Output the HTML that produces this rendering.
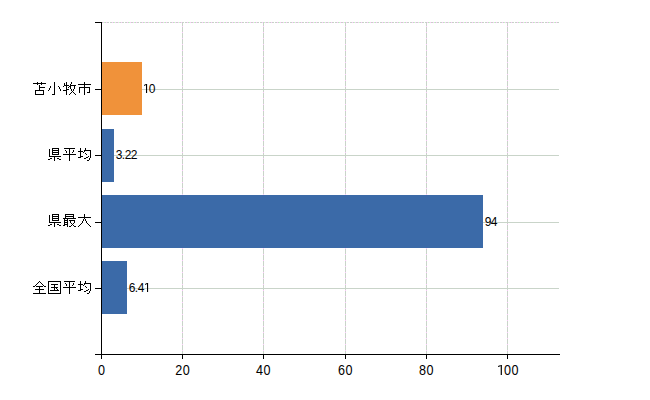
<!DOCTYPE html>
<html><head><meta charset="utf-8"><style>
html,body{margin:0;padding:0;background:#fff;width:650px;height:400px;overflow:hidden}
svg{display:block}
text{font-family:"Liberation Sans",sans-serif}
</style></head><body>
<svg width="650" height="400" shape-rendering="crispEdges"><rect width="650" height="400" fill="#fff"/><rect x="102" y="22" width="1" height="1" fill="#c8d2c8"/><rect x="103" y="22" width="1" height="1" fill="#fcc8fc"/><rect x="104" y="22" width="1" height="1" fill="#c4fcc4"/><rect x="105" y="22" width="1" height="1" fill="#c8d2c8"/><rect x="106" y="22" width="1" height="1" fill="#fcc8fc"/><rect x="107" y="22" width="2" height="1" fill="#c8d2c8"/><rect x="110" y="22" width="2" height="1" fill="#c8d2c8"/><rect x="112" y="22" width="1" height="1" fill="#fcc8fc"/><rect x="113" y="22" width="1" height="1" fill="#c8d2c8"/><rect x="114" y="22" width="1" height="1" fill="#c4fcc4"/><rect x="115" y="22" width="1" height="1" fill="#fcc8fc"/><rect x="116" y="22" width="2" height="1" fill="#c8d2c8"/><rect x="118" y="22" width="1" height="1" fill="#fcc8fc"/><rect x="119" y="22" width="1" height="1" fill="#c4fcc4"/><rect x="120" y="22" width="1" height="1" fill="#c8d2c8"/><rect x="121" y="22" width="1" height="1" fill="#fcc8fc"/><rect x="122" y="22" width="2" height="1" fill="#c8d2c8"/><rect x="125" y="22" width="2" height="1" fill="#c8d2c8"/><rect x="127" y="22" width="1" height="1" fill="#fcc8fc"/><rect x="128" y="22" width="1" height="1" fill="#c8d2c8"/><rect x="129" y="22" width="1" height="1" fill="#c4fcc4"/><rect x="130" y="22" width="1" height="1" fill="#fcc8fc"/><rect x="131" y="22" width="2" height="1" fill="#c8d2c8"/><rect x="133" y="22" width="1" height="1" fill="#fcc8fc"/><rect x="134" y="22" width="1" height="1" fill="#c4fcc4"/><rect x="135" y="22" width="1" height="1" fill="#c8d2c8"/><rect x="136" y="22" width="1" height="1" fill="#fcc8fc"/><rect x="137" y="22" width="2" height="1" fill="#c8d2c8"/><rect x="140" y="22" width="2" height="1" fill="#c8d2c8"/><rect x="142" y="22" width="1" height="1" fill="#fcc8fc"/><rect x="143" y="22" width="1" height="1" fill="#c8d2c8"/><rect x="144" y="22" width="1" height="1" fill="#c4fcc4"/><rect x="145" y="22" width="1" height="1" fill="#fcc8fc"/><rect x="146" y="22" width="2" height="1" fill="#c8d2c8"/><rect x="148" y="22" width="1" height="1" fill="#fcc8fc"/><rect x="149" y="22" width="1" height="1" fill="#c4fcc4"/><rect x="150" y="22" width="1" height="1" fill="#c8d2c8"/><rect x="151" y="22" width="1" height="1" fill="#fcc8fc"/><rect x="152" y="22" width="2" height="1" fill="#c8d2c8"/><rect x="155" y="22" width="2" height="1" fill="#c8d2c8"/><rect x="157" y="22" width="1" height="1" fill="#fcc8fc"/><rect x="158" y="22" width="1" height="1" fill="#c8d2c8"/><rect x="159" y="22" width="1" height="1" fill="#c4fcc4"/><rect x="160" y="22" width="1" height="1" fill="#fcc8fc"/><rect x="161" y="22" width="2" height="1" fill="#c8d2c8"/><rect x="163" y="22" width="1" height="1" fill="#fcc8fc"/><rect x="164" y="22" width="1" height="1" fill="#c4fcc4"/><rect x="165" y="22" width="1" height="1" fill="#c8d2c8"/><rect x="166" y="22" width="1" height="1" fill="#fcc8fc"/><rect x="167" y="22" width="2" height="1" fill="#c8d2c8"/><rect x="170" y="22" width="2" height="1" fill="#c8d2c8"/><rect x="172" y="22" width="1" height="1" fill="#fcc8fc"/><rect x="173" y="22" width="1" height="1" fill="#c8d2c8"/><rect x="174" y="22" width="1" height="1" fill="#c4fcc4"/><rect x="175" y="22" width="1" height="1" fill="#fcc8fc"/><rect x="176" y="22" width="2" height="1" fill="#c8d2c8"/><rect x="178" y="22" width="1" height="1" fill="#fcc8fc"/><rect x="179" y="22" width="1" height="1" fill="#c4fcc4"/><rect x="180" y="22" width="1" height="1" fill="#c8d2c8"/><rect x="181" y="22" width="1" height="1" fill="#fcc8fc"/><rect x="182" y="22" width="2" height="1" fill="#c8d2c8"/><rect x="185" y="22" width="2" height="1" fill="#c8d2c8"/><rect x="187" y="22" width="1" height="1" fill="#fcc8fc"/><rect x="188" y="22" width="1" height="1" fill="#c8d2c8"/><rect x="189" y="22" width="1" height="1" fill="#c4fcc4"/><rect x="190" y="22" width="1" height="1" fill="#fcc8fc"/><rect x="191" y="22" width="2" height="1" fill="#c8d2c8"/><rect x="193" y="22" width="1" height="1" fill="#fcc8fc"/><rect x="194" y="22" width="1" height="1" fill="#c4fcc4"/><rect x="195" y="22" width="1" height="1" fill="#c8d2c8"/><rect x="196" y="22" width="1" height="1" fill="#fcc8fc"/><rect x="197" y="22" width="2" height="1" fill="#c8d2c8"/><rect x="200" y="22" width="2" height="1" fill="#c8d2c8"/><rect x="202" y="22" width="1" height="1" fill="#fcc8fc"/><rect x="203" y="22" width="1" height="1" fill="#c8d2c8"/><rect x="204" y="22" width="1" height="1" fill="#c4fcc4"/><rect x="205" y="22" width="1" height="1" fill="#fcc8fc"/><rect x="206" y="22" width="2" height="1" fill="#c8d2c8"/><rect x="208" y="22" width="1" height="1" fill="#fcc8fc"/><rect x="209" y="22" width="1" height="1" fill="#c4fcc4"/><rect x="210" y="22" width="1" height="1" fill="#c8d2c8"/><rect x="211" y="22" width="1" height="1" fill="#fcc8fc"/><rect x="212" y="22" width="2" height="1" fill="#c8d2c8"/><rect x="215" y="22" width="2" height="1" fill="#c8d2c8"/><rect x="217" y="22" width="1" height="1" fill="#fcc8fc"/><rect x="218" y="22" width="1" height="1" fill="#c8d2c8"/><rect x="219" y="22" width="1" height="1" fill="#c4fcc4"/><rect x="220" y="22" width="1" height="1" fill="#fcc8fc"/><rect x="221" y="22" width="2" height="1" fill="#c8d2c8"/><rect x="223" y="22" width="1" height="1" fill="#fcc8fc"/><rect x="224" y="22" width="1" height="1" fill="#c4fcc4"/><rect x="225" y="22" width="1" height="1" fill="#c8d2c8"/><rect x="226" y="22" width="1" height="1" fill="#fcc8fc"/><rect x="227" y="22" width="2" height="1" fill="#c8d2c8"/><rect x="230" y="22" width="2" height="1" fill="#c8d2c8"/><rect x="232" y="22" width="1" height="1" fill="#fcc8fc"/><rect x="233" y="22" width="1" height="1" fill="#c8d2c8"/><rect x="234" y="22" width="1" height="1" fill="#c4fcc4"/><rect x="235" y="22" width="1" height="1" fill="#fcc8fc"/><rect x="236" y="22" width="2" height="1" fill="#c8d2c8"/><rect x="238" y="22" width="1" height="1" fill="#fcc8fc"/><rect x="239" y="22" width="1" height="1" fill="#c4fcc4"/><rect x="240" y="22" width="1" height="1" fill="#c8d2c8"/><rect x="241" y="22" width="1" height="1" fill="#fcc8fc"/><rect x="242" y="22" width="2" height="1" fill="#c8d2c8"/><rect x="245" y="22" width="2" height="1" fill="#c8d2c8"/><rect x="247" y="22" width="1" height="1" fill="#fcc8fc"/><rect x="248" y="22" width="1" height="1" fill="#c8d2c8"/><rect x="249" y="22" width="1" height="1" fill="#c4fcc4"/><rect x="250" y="22" width="1" height="1" fill="#fcc8fc"/><rect x="251" y="22" width="2" height="1" fill="#c8d2c8"/><rect x="253" y="22" width="1" height="1" fill="#fcc8fc"/><rect x="254" y="22" width="1" height="1" fill="#c4fcc4"/><rect x="255" y="22" width="1" height="1" fill="#c8d2c8"/><rect x="256" y="22" width="1" height="1" fill="#fcc8fc"/><rect x="257" y="22" width="2" height="1" fill="#c8d2c8"/><rect x="260" y="22" width="2" height="1" fill="#c8d2c8"/><rect x="262" y="22" width="1" height="1" fill="#fcc8fc"/><rect x="263" y="22" width="1" height="1" fill="#c8d2c8"/><rect x="264" y="22" width="1" height="1" fill="#c4fcc4"/><rect x="265" y="22" width="1" height="1" fill="#fcc8fc"/><rect x="266" y="22" width="2" height="1" fill="#c8d2c8"/><rect x="268" y="22" width="1" height="1" fill="#fcc8fc"/><rect x="269" y="22" width="1" height="1" fill="#c4fcc4"/><rect x="270" y="22" width="1" height="1" fill="#c8d2c8"/><rect x="271" y="22" width="1" height="1" fill="#fcc8fc"/><rect x="272" y="22" width="2" height="1" fill="#c8d2c8"/><rect x="275" y="22" width="2" height="1" fill="#c8d2c8"/><rect x="277" y="22" width="1" height="1" fill="#fcc8fc"/><rect x="278" y="22" width="1" height="1" fill="#c8d2c8"/><rect x="279" y="22" width="1" height="1" fill="#c4fcc4"/><rect x="280" y="22" width="1" height="1" fill="#fcc8fc"/><rect x="281" y="22" width="2" height="1" fill="#c8d2c8"/><rect x="283" y="22" width="1" height="1" fill="#fcc8fc"/><rect x="284" y="22" width="1" height="1" fill="#c4fcc4"/><rect x="285" y="22" width="1" height="1" fill="#c8d2c8"/><rect x="286" y="22" width="1" height="1" fill="#fcc8fc"/><rect x="287" y="22" width="2" height="1" fill="#c8d2c8"/><rect x="290" y="22" width="2" height="1" fill="#c8d2c8"/><rect x="292" y="22" width="1" height="1" fill="#fcc8fc"/><rect x="293" y="22" width="1" height="1" fill="#c8d2c8"/><rect x="294" y="22" width="1" height="1" fill="#c4fcc4"/><rect x="295" y="22" width="1" height="1" fill="#fcc8fc"/><rect x="296" y="22" width="2" height="1" fill="#c8d2c8"/><rect x="298" y="22" width="1" height="1" fill="#fcc8fc"/><rect x="299" y="22" width="1" height="1" fill="#c4fcc4"/><rect x="300" y="22" width="1" height="1" fill="#c8d2c8"/><rect x="301" y="22" width="1" height="1" fill="#fcc8fc"/><rect x="302" y="22" width="2" height="1" fill="#c8d2c8"/><rect x="305" y="22" width="2" height="1" fill="#c8d2c8"/><rect x="307" y="22" width="1" height="1" fill="#fcc8fc"/><rect x="308" y="22" width="1" height="1" fill="#c8d2c8"/><rect x="309" y="22" width="1" height="1" fill="#c4fcc4"/><rect x="310" y="22" width="1" height="1" fill="#fcc8fc"/><rect x="311" y="22" width="2" height="1" fill="#c8d2c8"/><rect x="313" y="22" width="1" height="1" fill="#fcc8fc"/><rect x="314" y="22" width="1" height="1" fill="#c4fcc4"/><rect x="315" y="22" width="1" height="1" fill="#c8d2c8"/><rect x="316" y="22" width="1" height="1" fill="#fcc8fc"/><rect x="317" y="22" width="2" height="1" fill="#c8d2c8"/><rect x="320" y="22" width="2" height="1" fill="#c8d2c8"/><rect x="322" y="22" width="1" height="1" fill="#fcc8fc"/><rect x="323" y="22" width="1" height="1" fill="#c8d2c8"/><rect x="324" y="22" width="1" height="1" fill="#c4fcc4"/><rect x="325" y="22" width="1" height="1" fill="#fcc8fc"/><rect x="326" y="22" width="2" height="1" fill="#c8d2c8"/><rect x="328" y="22" width="1" height="1" fill="#fcc8fc"/><rect x="329" y="22" width="1" height="1" fill="#c4fcc4"/><rect x="330" y="22" width="1" height="1" fill="#c8d2c8"/><rect x="331" y="22" width="1" height="1" fill="#fcc8fc"/><rect x="332" y="22" width="2" height="1" fill="#c8d2c8"/><rect x="335" y="22" width="2" height="1" fill="#c8d2c8"/><rect x="337" y="22" width="1" height="1" fill="#fcc8fc"/><rect x="338" y="22" width="1" height="1" fill="#c8d2c8"/><rect x="339" y="22" width="1" height="1" fill="#c4fcc4"/><rect x="340" y="22" width="1" height="1" fill="#fcc8fc"/><rect x="341" y="22" width="2" height="1" fill="#c8d2c8"/><rect x="343" y="22" width="1" height="1" fill="#fcc8fc"/><rect x="344" y="22" width="1" height="1" fill="#c4fcc4"/><rect x="345" y="22" width="1" height="1" fill="#c8d2c8"/><rect x="346" y="22" width="1" height="1" fill="#fcc8fc"/><rect x="347" y="22" width="2" height="1" fill="#c8d2c8"/><rect x="350" y="22" width="2" height="1" fill="#c8d2c8"/><rect x="352" y="22" width="1" height="1" fill="#fcc8fc"/><rect x="353" y="22" width="1" height="1" fill="#c8d2c8"/><rect x="354" y="22" width="1" height="1" fill="#c4fcc4"/><rect x="355" y="22" width="1" height="1" fill="#fcc8fc"/><rect x="356" y="22" width="2" height="1" fill="#c8d2c8"/><rect x="358" y="22" width="1" height="1" fill="#fcc8fc"/><rect x="359" y="22" width="1" height="1" fill="#c4fcc4"/><rect x="360" y="22" width="1" height="1" fill="#c8d2c8"/><rect x="361" y="22" width="1" height="1" fill="#fcc8fc"/><rect x="362" y="22" width="2" height="1" fill="#c8d2c8"/><rect x="365" y="22" width="2" height="1" fill="#c8d2c8"/><rect x="367" y="22" width="1" height="1" fill="#fcc8fc"/><rect x="368" y="22" width="1" height="1" fill="#c8d2c8"/><rect x="369" y="22" width="1" height="1" fill="#c4fcc4"/><rect x="370" y="22" width="1" height="1" fill="#fcc8fc"/><rect x="371" y="22" width="2" height="1" fill="#c8d2c8"/><rect x="373" y="22" width="1" height="1" fill="#fcc8fc"/><rect x="374" y="22" width="1" height="1" fill="#c4fcc4"/><rect x="375" y="22" width="1" height="1" fill="#c8d2c8"/><rect x="376" y="22" width="1" height="1" fill="#fcc8fc"/><rect x="377" y="22" width="2" height="1" fill="#c8d2c8"/><rect x="380" y="22" width="2" height="1" fill="#c8d2c8"/><rect x="382" y="22" width="1" height="1" fill="#fcc8fc"/><rect x="383" y="22" width="1" height="1" fill="#c8d2c8"/><rect x="384" y="22" width="1" height="1" fill="#c4fcc4"/><rect x="385" y="22" width="1" height="1" fill="#fcc8fc"/><rect x="386" y="22" width="2" height="1" fill="#c8d2c8"/><rect x="388" y="22" width="1" height="1" fill="#fcc8fc"/><rect x="389" y="22" width="1" height="1" fill="#c4fcc4"/><rect x="390" y="22" width="1" height="1" fill="#c8d2c8"/><rect x="391" y="22" width="1" height="1" fill="#fcc8fc"/><rect x="392" y="22" width="2" height="1" fill="#c8d2c8"/><rect x="395" y="22" width="2" height="1" fill="#c8d2c8"/><rect x="397" y="22" width="1" height="1" fill="#fcc8fc"/><rect x="398" y="22" width="1" height="1" fill="#c8d2c8"/><rect x="399" y="22" width="1" height="1" fill="#c4fcc4"/><rect x="400" y="22" width="1" height="1" fill="#fcc8fc"/><rect x="401" y="22" width="2" height="1" fill="#c8d2c8"/><rect x="403" y="22" width="1" height="1" fill="#fcc8fc"/><rect x="404" y="22" width="1" height="1" fill="#c4fcc4"/><rect x="405" y="22" width="1" height="1" fill="#c8d2c8"/><rect x="406" y="22" width="1" height="1" fill="#fcc8fc"/><rect x="407" y="22" width="2" height="1" fill="#c8d2c8"/><rect x="410" y="22" width="2" height="1" fill="#c8d2c8"/><rect x="412" y="22" width="1" height="1" fill="#fcc8fc"/><rect x="413" y="22" width="1" height="1" fill="#c8d2c8"/><rect x="414" y="22" width="1" height="1" fill="#c4fcc4"/><rect x="415" y="22" width="1" height="1" fill="#fcc8fc"/><rect x="416" y="22" width="2" height="1" fill="#c8d2c8"/><rect x="418" y="22" width="1" height="1" fill="#fcc8fc"/><rect x="419" y="22" width="1" height="1" fill="#c4fcc4"/><rect x="420" y="22" width="1" height="1" fill="#c8d2c8"/><rect x="421" y="22" width="1" height="1" fill="#fcc8fc"/><rect x="422" y="22" width="2" height="1" fill="#c8d2c8"/><rect x="425" y="22" width="2" height="1" fill="#c8d2c8"/><rect x="427" y="22" width="1" height="1" fill="#fcc8fc"/><rect x="428" y="22" width="1" height="1" fill="#c8d2c8"/><rect x="429" y="22" width="1" height="1" fill="#c4fcc4"/><rect x="430" y="22" width="1" height="1" fill="#fcc8fc"/><rect x="431" y="22" width="2" height="1" fill="#c8d2c8"/><rect x="433" y="22" width="1" height="1" fill="#fcc8fc"/><rect x="434" y="22" width="1" height="1" fill="#c4fcc4"/><rect x="435" y="22" width="1" height="1" fill="#c8d2c8"/><rect x="436" y="22" width="1" height="1" fill="#fcc8fc"/><rect x="437" y="22" width="2" height="1" fill="#c8d2c8"/><rect x="440" y="22" width="2" height="1" fill="#c8d2c8"/><rect x="442" y="22" width="1" height="1" fill="#fcc8fc"/><rect x="443" y="22" width="1" height="1" fill="#c8d2c8"/><rect x="444" y="22" width="1" height="1" fill="#c4fcc4"/><rect x="445" y="22" width="1" height="1" fill="#fcc8fc"/><rect x="446" y="22" width="2" height="1" fill="#c8d2c8"/><rect x="448" y="22" width="1" height="1" fill="#fcc8fc"/><rect x="449" y="22" width="1" height="1" fill="#c4fcc4"/><rect x="450" y="22" width="1" height="1" fill="#c8d2c8"/><rect x="451" y="22" width="1" height="1" fill="#fcc8fc"/><rect x="452" y="22" width="2" height="1" fill="#c8d2c8"/><rect x="455" y="22" width="2" height="1" fill="#c8d2c8"/><rect x="457" y="22" width="1" height="1" fill="#fcc8fc"/><rect x="458" y="22" width="1" height="1" fill="#c8d2c8"/><rect x="459" y="22" width="1" height="1" fill="#c4fcc4"/><rect x="460" y="22" width="1" height="1" fill="#fcc8fc"/><rect x="461" y="22" width="2" height="1" fill="#c8d2c8"/><rect x="463" y="22" width="1" height="1" fill="#fcc8fc"/><rect x="464" y="22" width="1" height="1" fill="#c4fcc4"/><rect x="465" y="22" width="1" height="1" fill="#c8d2c8"/><rect x="466" y="22" width="1" height="1" fill="#fcc8fc"/><rect x="467" y="22" width="2" height="1" fill="#c8d2c8"/><rect x="470" y="22" width="2" height="1" fill="#c8d2c8"/><rect x="472" y="22" width="1" height="1" fill="#fcc8fc"/><rect x="473" y="22" width="1" height="1" fill="#c8d2c8"/><rect x="474" y="22" width="1" height="1" fill="#c4fcc4"/><rect x="475" y="22" width="1" height="1" fill="#fcc8fc"/><rect x="476" y="22" width="2" height="1" fill="#c8d2c8"/><rect x="478" y="22" width="1" height="1" fill="#fcc8fc"/><rect x="479" y="22" width="1" height="1" fill="#c4fcc4"/><rect x="480" y="22" width="1" height="1" fill="#c8d2c8"/><rect x="481" y="22" width="1" height="1" fill="#fcc8fc"/><rect x="482" y="22" width="2" height="1" fill="#c8d2c8"/><rect x="485" y="22" width="2" height="1" fill="#c8d2c8"/><rect x="487" y="22" width="1" height="1" fill="#fcc8fc"/><rect x="488" y="22" width="1" height="1" fill="#c8d2c8"/><rect x="489" y="22" width="1" height="1" fill="#c4fcc4"/><rect x="490" y="22" width="1" height="1" fill="#fcc8fc"/><rect x="491" y="22" width="2" height="1" fill="#c8d2c8"/><rect x="493" y="22" width="1" height="1" fill="#fcc8fc"/><rect x="494" y="22" width="1" height="1" fill="#c4fcc4"/><rect x="495" y="22" width="1" height="1" fill="#c8d2c8"/><rect x="496" y="22" width="1" height="1" fill="#fcc8fc"/><rect x="497" y="22" width="2" height="1" fill="#c8d2c8"/><rect x="500" y="22" width="2" height="1" fill="#c8d2c8"/><rect x="502" y="22" width="1" height="1" fill="#fcc8fc"/><rect x="503" y="22" width="1" height="1" fill="#c8d2c8"/><rect x="504" y="22" width="1" height="1" fill="#c4fcc4"/><rect x="505" y="22" width="1" height="1" fill="#fcc8fc"/><rect x="506" y="22" width="2" height="1" fill="#c8d2c8"/><rect x="508" y="22" width="1" height="1" fill="#fcc8fc"/><rect x="509" y="22" width="1" height="1" fill="#c4fcc4"/><rect x="510" y="22" width="1" height="1" fill="#c8d2c8"/><rect x="511" y="22" width="1" height="1" fill="#fcc8fc"/><rect x="512" y="22" width="2" height="1" fill="#c8d2c8"/><rect x="515" y="22" width="2" height="1" fill="#c8d2c8"/><rect x="517" y="22" width="1" height="1" fill="#fcc8fc"/><rect x="518" y="22" width="1" height="1" fill="#c8d2c8"/><rect x="519" y="22" width="1" height="1" fill="#c4fcc4"/><rect x="520" y="22" width="1" height="1" fill="#fcc8fc"/><rect x="521" y="22" width="2" height="1" fill="#c8d2c8"/><rect x="523" y="22" width="1" height="1" fill="#fcc8fc"/><rect x="524" y="22" width="1" height="1" fill="#c4fcc4"/><rect x="525" y="22" width="1" height="1" fill="#c8d2c8"/><rect x="526" y="22" width="1" height="1" fill="#fcc8fc"/><rect x="527" y="22" width="2" height="1" fill="#c8d2c8"/><rect x="530" y="22" width="2" height="1" fill="#c8d2c8"/><rect x="532" y="22" width="1" height="1" fill="#fcc8fc"/><rect x="533" y="22" width="1" height="1" fill="#c8d2c8"/><rect x="534" y="22" width="1" height="1" fill="#c4fcc4"/><rect x="535" y="22" width="1" height="1" fill="#fcc8fc"/><rect x="536" y="22" width="2" height="1" fill="#c8d2c8"/><rect x="538" y="22" width="1" height="1" fill="#fcc8fc"/><rect x="539" y="22" width="1" height="1" fill="#c4fcc4"/><rect x="540" y="22" width="1" height="1" fill="#c8d2c8"/><rect x="541" y="22" width="1" height="1" fill="#fcc8fc"/><rect x="542" y="22" width="2" height="1" fill="#c8d2c8"/><rect x="545" y="22" width="2" height="1" fill="#c8d2c8"/><rect x="547" y="22" width="1" height="1" fill="#fcc8fc"/><rect x="548" y="22" width="1" height="1" fill="#c8d2c8"/><rect x="549" y="22" width="1" height="1" fill="#c4fcc4"/><rect x="550" y="22" width="1" height="1" fill="#fcc8fc"/><rect x="551" y="22" width="2" height="1" fill="#c8d2c8"/><rect x="553" y="22" width="1" height="1" fill="#fcc8fc"/><rect x="554" y="22" width="1" height="1" fill="#c4fcc4"/><rect x="555" y="22" width="1" height="1" fill="#c8d2c8"/><rect x="556" y="22" width="1" height="1" fill="#fcc8fc"/><rect x="557" y="22" width="2" height="1" fill="#c8d2c8"/><rect x="102" y="89" width="457" height="1" fill="#c9d4c9"/><rect x="102" y="155" width="457" height="1" fill="#c9d4c9"/><rect x="102" y="222" width="457" height="1" fill="#c9d4c9"/><rect x="102" y="288" width="457" height="1" fill="#c9d4c9"/><rect x="182" y="23" width="1" height="331" fill="#c9d4c9"/><line x1="182.5" y1="26" x2="182.5" y2="354" stroke="#fcc8fc" stroke-width="1" stroke-dasharray="1 5"/><rect x="263" y="23" width="1" height="331" fill="#c9d4c9"/><line x1="263.5" y1="26" x2="263.5" y2="354" stroke="#fcc8fc" stroke-width="1" stroke-dasharray="1 5"/><rect x="345" y="23" width="1" height="331" fill="#c9d4c9"/><line x1="345.5" y1="26" x2="345.5" y2="354" stroke="#fcc8fc" stroke-width="1" stroke-dasharray="1 5"/><rect x="426" y="23" width="1" height="331" fill="#c9d4c9"/><line x1="426.5" y1="26" x2="426.5" y2="354" stroke="#fcc8fc" stroke-width="1" stroke-dasharray="1 5"/><rect x="507" y="23" width="1" height="331" fill="#c9d4c9"/><line x1="507.5" y1="26" x2="507.5" y2="354" stroke="#fcc8fc" stroke-width="1" stroke-dasharray="1 5"/><rect x="101" y="62" width="41" height="53" fill="#f0923a"/><rect x="101" y="129" width="13" height="53" fill="#3b6aa8"/><rect x="101" y="195" width="382" height="53" fill="#3b6aa8"/><rect x="101" y="261" width="26" height="53" fill="#3b6aa8"/><rect x="101" y="22" width="1" height="337" fill="#000"/><rect x="95" y="22" width="6" height="1" fill="#000"/><rect x="95" y="354" width="465" height="1" fill="#000"/><rect x="95" y="89" width="6" height="1" fill="#000"/><rect x="95" y="155" width="6" height="1" fill="#000"/><rect x="95" y="222" width="6" height="1" fill="#000"/><rect x="95" y="288" width="6" height="1" fill="#000"/><rect x="101" y="354" width="1" height="5" fill="#000"/><rect x="182" y="354" width="1" height="5" fill="#000"/><rect x="263" y="354" width="1" height="5" fill="#000"/><rect x="345" y="354" width="1" height="5" fill="#000"/><rect x="426" y="354" width="1" height="5" fill="#000"/><rect x="507" y="354" width="1" height="5" fill="#000"/><path d="M37 82h1v1h-1zM41 82h1v1h-1zM33 83h13v1h-13zM37 84h1v1h-1zM41 84h1v1h-1zM39 85h1v1h-1zM39 86h1v1h-1zM39 87h6v1h-6zM39 88h1v1h-1zM39 89h1v1h-1zM35 90h9v1h-9zM35 91h1v1h-1zM43 91h1v1h-1zM35 92h1v1h-1zM43 92h1v1h-1zM35 93h1v1h-1zM43 93h1v1h-1zM35 94h9v1h-9zM54 82h1v1h-1zM54 83h1v1h-1zM54 84h1v1h-1zM54 85h1v1h-1zM50 86h1v1h-1zM54 86h1v1h-1zM58 86h1v1h-1zM50 87h1v1h-1zM54 87h1v1h-1zM59 87h1v1h-1zM49 88h1v1h-1zM54 88h1v1h-1zM59 88h1v1h-1zM49 89h1v1h-1zM54 89h1v1h-1zM60 89h1v1h-1zM48 90h1v1h-1zM54 90h1v1h-1zM60 90h1v1h-1zM54 91h1v1h-1zM54 92h1v1h-1zM54 93h1v1h-1zM52 94h3v1h-3zM66 82h1v1h-1zM71 82h1v1h-1zM64 83h1v1h-1zM66 83h1v1h-1zM71 83h1v1h-1zM64 84h1v1h-1zM66 84h1v1h-1zM70 84h1v1h-1zM64 85h5v1h-5zM70 85h6v1h-6zM63 86h1v1h-1zM66 86h1v1h-1zM69 86h2v1h-2zM74 86h1v1h-1zM66 87h1v1h-1zM68 87h1v1h-1zM70 87h1v1h-1zM74 87h1v1h-1zM66 88h1v1h-1zM70 88h1v1h-1zM74 88h1v1h-1zM66 89h3v1h-3zM71 89h1v1h-1zM73 89h1v1h-1zM63 90h4v1h-4zM71 90h1v1h-1zM73 90h1v1h-1zM66 91h1v1h-1zM72 91h1v1h-1zM66 92h1v1h-1zM71 92h1v1h-1zM73 92h1v1h-1zM66 93h1v1h-1zM70 93h1v1h-1zM74 93h1v1h-1zM66 94h1v1h-1zM69 94h1v1h-1zM75 94h1v1h-1zM84 82h1v1h-1zM84 83h1v1h-1zM78 84h13v1h-13zM84 85h1v1h-1zM84 86h1v1h-1zM79 87h11v1h-11zM79 88h1v1h-1zM84 88h1v1h-1zM89 88h1v1h-1zM79 89h1v1h-1zM84 89h1v1h-1zM89 89h1v1h-1zM79 90h1v1h-1zM84 90h1v1h-1zM89 90h1v1h-1zM79 91h1v1h-1zM84 91h1v1h-1zM89 91h1v1h-1zM79 92h1v1h-1zM84 92h1v1h-1zM87 92h3v1h-3zM84 93h1v1h-1zM84 94h1v1h-1zM52 148h7v1h-7zM49 149h1v1h-1zM52 149h1v1h-1zM58 149h1v1h-1zM49 150h1v1h-1zM52 150h7v1h-7zM49 151h1v1h-1zM52 151h1v1h-1zM58 151h1v1h-1zM49 152h1v1h-1zM52 152h7v1h-7zM49 153h1v1h-1zM52 153h1v1h-1zM58 153h1v1h-1zM49 154h1v1h-1zM52 154h7v1h-7zM49 155h1v1h-1zM49 156h12v1h-12zM54 157h1v1h-1zM50 158h2v1h-2zM54 158h1v1h-1zM57 158h2v1h-2zM48 159h2v1h-2zM54 159h1v1h-1zM59 159h2v1h-2zM54 160h1v1h-1zM64 148h11v1h-11zM69 149h1v1h-1zM65 150h1v1h-1zM69 150h1v1h-1zM73 150h1v1h-1zM66 151h1v1h-1zM69 151h1v1h-1zM73 151h1v1h-1zM66 152h1v1h-1zM69 152h1v1h-1zM72 152h1v1h-1zM69 153h1v1h-1zM63 154h13v1h-13zM69 155h1v1h-1zM69 156h1v1h-1zM69 157h1v1h-1zM69 158h1v1h-1zM69 159h1v1h-1zM69 160h1v1h-1zM80 148h1v1h-1zM85 148h1v1h-1zM80 149h1v1h-1zM85 149h1v1h-1zM80 150h1v1h-1zM84 150h7v1h-7zM78 151h5v1h-5zM84 151h1v1h-1zM90 151h1v1h-1zM80 152h1v1h-1zM83 152h1v1h-1zM90 152h1v1h-1zM80 153h1v1h-1zM85 153h1v1h-1zM90 153h1v1h-1zM80 154h1v1h-1zM86 154h1v1h-1zM90 154h1v1h-1zM80 155h1v1h-1zM90 155h1v1h-1zM80 156h3v1h-3zM88 156h1v1h-1zM90 156h1v1h-1zM78 157h3v1h-3zM86 157h2v1h-2zM90 157h1v1h-1zM84 158h2v1h-2zM89 158h1v1h-1zM89 159h1v1h-1zM87 160h2v1h-2zM52 214h7v1h-7zM49 215h1v1h-1zM52 215h1v1h-1zM58 215h1v1h-1zM49 216h1v1h-1zM52 216h7v1h-7zM49 217h1v1h-1zM52 217h1v1h-1zM58 217h1v1h-1zM49 218h1v1h-1zM52 218h7v1h-7zM49 219h1v1h-1zM52 219h1v1h-1zM58 219h1v1h-1zM49 220h1v1h-1zM52 220h7v1h-7zM49 221h1v1h-1zM49 222h12v1h-12zM54 223h1v1h-1zM50 224h2v1h-2zM54 224h1v1h-1zM57 224h2v1h-2zM48 225h2v1h-2zM54 225h1v1h-1zM59 225h2v1h-2zM54 226h1v1h-1zM65 214h9v1h-9zM65 215h1v1h-1zM73 215h1v1h-1zM65 216h9v1h-9zM65 217h1v1h-1zM73 217h1v1h-1zM63 218h13v1h-13zM64 219h1v1h-1zM67 219h1v1h-1zM64 220h4v1h-4zM69 220h6v1h-6zM64 221h1v1h-1zM67 221h1v1h-1zM70 221h1v1h-1zM74 221h1v1h-1zM64 222h4v1h-4zM70 222h1v1h-1zM74 222h1v1h-1zM64 223h1v1h-1zM67 223h1v1h-1zM71 223h1v1h-1zM73 223h1v1h-1zM64 224h4v1h-4zM72 224h1v1h-1zM63 225h2v1h-2zM67 225h1v1h-1zM71 225h1v1h-1zM73 225h1v1h-1zM67 226h1v1h-1zM69 226h2v1h-2zM74 226h2v1h-2zM84 214h1v1h-1zM84 215h1v1h-1zM84 216h1v1h-1zM78 217h13v1h-13zM84 218h1v1h-1zM83 219h1v1h-1zM85 219h1v1h-1zM83 220h1v1h-1zM85 220h1v1h-1zM82 221h1v1h-1zM86 221h1v1h-1zM82 222h1v1h-1zM86 222h1v1h-1zM81 223h1v1h-1zM87 223h1v1h-1zM80 224h1v1h-1zM88 224h1v1h-1zM79 225h1v1h-1zM89 225h1v1h-1zM78 226h1v1h-1zM90 226h1v1h-1zM39 281h1v1h-1zM38 282h1v1h-1zM40 282h1v1h-1zM37 283h1v1h-1zM41 283h1v1h-1zM36 284h1v1h-1zM42 284h1v1h-1zM35 285h1v1h-1zM43 285h1v1h-1zM33 286h2v1h-2zM36 286h7v1h-7zM44 286h2v1h-2zM39 287h1v1h-1zM39 288h1v1h-1zM35 289h9v1h-9zM39 290h1v1h-1zM39 291h1v1h-1zM39 292h1v1h-1zM33 293h13v1h-13zM48 281h13v1h-13zM48 282h1v1h-1zM60 282h1v1h-1zM48 283h1v1h-1zM60 283h1v1h-1zM48 284h1v1h-1zM51 284h7v1h-7zM60 284h1v1h-1zM48 285h1v1h-1zM54 285h1v1h-1zM60 285h1v1h-1zM48 286h1v1h-1zM54 286h1v1h-1zM60 286h1v1h-1zM48 287h1v1h-1zM51 287h7v1h-7zM60 287h1v1h-1zM48 288h1v1h-1zM54 288h1v1h-1zM56 288h1v1h-1zM60 288h1v1h-1zM48 289h1v1h-1zM54 289h1v1h-1zM57 289h1v1h-1zM60 289h1v1h-1zM48 290h1v1h-1zM50 290h9v1h-9zM60 290h1v1h-1zM48 291h1v1h-1zM60 291h1v1h-1zM48 292h1v1h-1zM60 292h1v1h-1zM48 293h13v1h-13zM64 281h11v1h-11zM69 282h1v1h-1zM65 283h1v1h-1zM69 283h1v1h-1zM73 283h1v1h-1zM66 284h1v1h-1zM69 284h1v1h-1zM73 284h1v1h-1zM66 285h1v1h-1zM69 285h1v1h-1zM72 285h1v1h-1zM69 286h1v1h-1zM63 287h13v1h-13zM69 288h1v1h-1zM69 289h1v1h-1zM69 290h1v1h-1zM69 291h1v1h-1zM69 292h1v1h-1zM69 293h1v1h-1zM80 281h1v1h-1zM85 281h1v1h-1zM80 282h1v1h-1zM85 282h1v1h-1zM80 283h1v1h-1zM84 283h7v1h-7zM78 284h5v1h-5zM84 284h1v1h-1zM90 284h1v1h-1zM80 285h1v1h-1zM83 285h1v1h-1zM90 285h1v1h-1zM80 286h1v1h-1zM85 286h1v1h-1zM90 286h1v1h-1zM80 287h1v1h-1zM86 287h1v1h-1zM90 287h1v1h-1zM80 288h1v1h-1zM90 288h1v1h-1zM80 289h3v1h-3zM88 289h1v1h-1zM90 289h1v1h-1zM78 290h3v1h-3zM86 290h2v1h-2zM90 290h1v1h-1zM84 291h2v1h-2zM89 291h1v1h-1zM89 292h1v1h-1zM87 293h2v1h-2z" fill="#000"/><g font-family="Liberation Sans, sans-serif" fill="#000" shape-rendering="auto"><text transform="scale(0.9,1)" x="108.89" y="375" font-size="14">0</text><text transform="scale(0.9,1)" x="194.72 203.05" y="375" font-size="14">20</text><text transform="scale(0.9,1)" x="284.5 292.83" y="375" font-size="14">40</text><text transform="scale(0.9,1)" x="375.5 383.83" y="375" font-size="14">60</text><text transform="scale(0.9,1)" x="465.5 473.83" y="375" font-size="14">80</text><text transform="scale(0.9,1)" x="560.0 568.33" y="375" font-size="14">00</text><path d="M500.7 365h1.2v10h-1.2z" fill="#000"/><path d="M498.0 366L500.7 365v1.2L498.0 367z" fill="#000"/><text x="148.66" y="93" font-size="12">0</text><path d="M146 84h1.1v9h-1.1z" fill="#000"/><path d="M144 85L146 84v1.1L144 86z" fill="#000"/><text x="115.66 121.83 124.66 130.66" y="159" font-size="12">3.22</text><text x="484.66 490.66" y="226" font-size="12">94</text><text x="128.66 134.83 137.66" y="292" font-size="12">6.4</text><path d="M147 283h1.1v9h-1.1z" fill="#000"/><path d="M145 284L147 283v1.1L145 285z" fill="#000"/></g></svg>
</body></html>
